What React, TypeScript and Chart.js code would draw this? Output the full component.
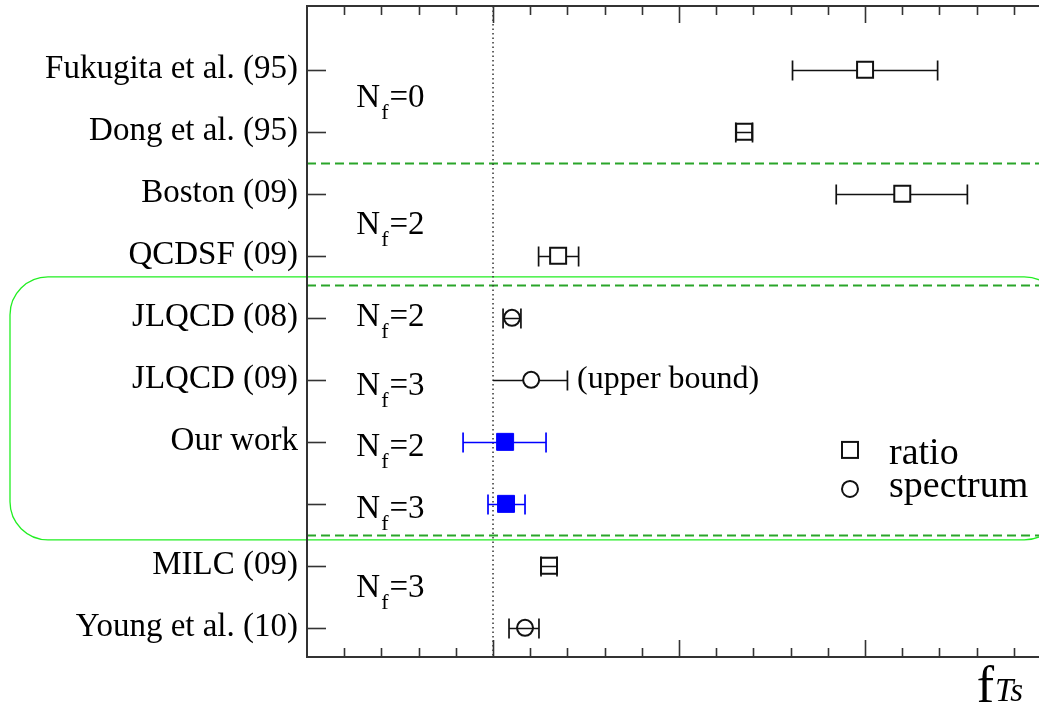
import React, { useEffect, useRef } from "react";
import { Chart, registerables } from "chart.js";

Chart.register(...registerables);

// ---- data ----
const categories = [
  "Fukugita et al. (95)",
  "Dong et al. (95)",
  "Boston (09)",
  "QCDSF (09)",
  "JLQCD (08)",
  "JLQCD (09)",
  "Our work",
  "",
  "MILC (09)",
  "Young et al. (10)",
];

const ratioRows = [0, 1, 2, 3, 8];
const ratioX = [3.0, 2.35, 3.2, 1.35, 1.301];
const ratioLo = [2.61, 2.305, 2.845, 1.245, 1.258];
const ratioHi = [3.39, 2.395, 3.55, 1.46, 1.344];

const spectrumRows = [4, 5, 9];
const spectrumX = [1.102, 1.205, 1.172];
const spectrumLo = [1.054, 1.0, 1.086];
const spectrumHi = [1.15, 1.4, 1.247];
const spectrumLoCap = [true, false, true];

const oursRows = [6, 7];
const oursX = [1.065, 1.07];
const oursLo = [0.839, 0.973];
const oursHi = [1.285, 1.172];

const nfValues = ["0", "2", "2", "3", "2", "3", "3"];
const nfRows = [0.6, 2.645, 4.13, 5.24, 6.23, 7.23, 8.5];
const separatorRows = [1.5, 3.47, 7.5];
const boxRows = [3.34, 7.58];
const referenceX = 1.0;
const upperBoundRow = 5;
const upperBoundX = 1.452;
const legendLabels = ["ratio", "spectrum"];
const legendRows = [6.13, 6.76];
const legendX = 2.919;

const X_MIN = 0;
const X_MAX = 3.935;
const Y_MIN = -1.03;
const Y_MAX = 9.47;

const SERIF = "'Liberation Serif', 'Times New Roman', 'DejaVu Serif', serif";

const decorPlugin = {
  id: "decor",
  beforeDatasetsDraw(chart: any) {
    const { ctx, chartArea: a } = chart;
    const x = chart.scales.x;
    const y = chart.scales.y;
    ctx.save();

    // green rounded box
    const bt = y.getPixelForValue(boxRows[0]);
    const bb = y.getPixelForValue(boxRows[1]);
    const bl = 10;
    const br = x.getPixelForValue(4.06);
    ctx.strokeStyle = "#22ee22";
    ctx.lineWidth = 1.3;
    ctx.beginPath();
    (ctx as any).roundRect(bl, bt, br - bl, bb - bt, 38);
    ctx.stroke();

    // dashed separators
    ctx.strokeStyle = "#2aa52a";
    ctx.lineWidth = 1.8;
    ctx.setLineDash([9, 5]);
    for (const r of separatorRows) {
      const py = Math.round(y.getPixelForValue(r)) + 0.5;
      ctx.beginPath();
      ctx.moveTo(a.left, py);
      ctx.lineTo(a.right, py);
      ctx.stroke();
    }

    // dotted reference line
    ctx.strokeStyle = "#333";
    ctx.lineWidth = 1.5;
    ctx.setLineDash([1.5, 3]);
    const rx = x.getPixelForValue(referenceX);
    ctx.beginPath();
    ctx.moveTo(rx, a.top);
    ctx.lineTo(rx, a.bottom);
    ctx.stroke();
    ctx.setLineDash([]);

    // frame
    ctx.strokeStyle = "#333";
    ctx.lineWidth = 2;
    ctx.beginPath();
    ctx.moveTo(a.right + 2, a.top);
    ctx.lineTo(a.left, a.top);
    ctx.lineTo(a.left, a.bottom);
    ctx.lineTo(a.right + 2, a.bottom);
    ctx.stroke();

    // x ticks (top and bottom, inward)
    ctx.lineWidth = 1.6;
    for (let k = 1; k * 0.2 <= X_MAX + 1e-9; k++) {
      const v = k * 0.2;
      const major = k % 5 === 0;
      const len = major ? 17 : 9;
      const px = Math.round(x.getPixelForValue(v)) + 0.5;
      ctx.beginPath();
      ctx.moveTo(px, a.bottom);
      ctx.lineTo(px, a.bottom - len);
      ctx.moveTo(px, a.top);
      ctx.lineTo(px, a.top + len);
      ctx.stroke();
    }
    // y ticks
    for (let i = 0; i < categories.length; i++) {
      const py = Math.round(y.getPixelForValue(i)) + 0.5;
      ctx.beginPath();
      ctx.moveTo(a.left, py);
      ctx.lineTo(a.left + 19, py);
      ctx.stroke();
    }

    // category labels
    ctx.fillStyle = "#000";
    ctx.font = `33px ${SERIF}`;
    ctx.textAlign = "right";
    ctx.textBaseline = "alphabetic";
    categories.forEach((c, i) => {
      if (c) ctx.fillText(c, a.left - 9, y.getPixelForValue(i) + 8);
    });

    // N_f labels
    ctx.textAlign = "left";
    const nx = x.getPixelForValue(0.265);
    nfValues.forEach((v, i) => {
      const by = y.getPixelForValue(nfRows[i]);
      ctx.font = `33px ${SERIF}`;
      ctx.fillText("N", nx, by);
      let cx = nx + ctx.measureText("N").width + 1;
      ctx.font = `22px ${SERIF}`;
      ctx.fillText("f", cx, by + 12);
      cx += ctx.measureText("f").width + 1;
      ctx.font = `33px ${SERIF}`;
      ctx.fillText("=" + v, cx, by);
    });

    // upper bound note
    ctx.font = `32px ${SERIF}`;
    ctx.fillText("(upper bound)", x.getPixelForValue(upperBoundX), y.getPixelForValue(upperBoundRow) + 8);

    // legend
    const lx = x.getPixelForValue(legendX);
    const ly0 = y.getPixelForValue(legendRows[0]);
    const ly1 = y.getPixelForValue(legendRows[1]);
    ctx.strokeStyle = "#111";
    ctx.lineWidth = 2;
    ctx.strokeRect(lx - 8, ly0 - 8, 16, 16);
    ctx.beginPath();
    ctx.arc(lx, ly1, 8, 0, Math.PI * 2);
    ctx.stroke();
    ctx.font = `38px ${SERIF}`;
    ctx.fillText(legendLabels[0], lx + 39, ly0 + 14);
    ctx.fillText(legendLabels[1], lx + 39, ly1 + 8);

    // axis title f_Ts
    const tx = x.getPixelForValue(3.6);
    ctx.font = `52px ${SERIF}`;
    ctx.fillText("f", tx, 702);
    const fw = ctx.measureText("f").width;
    ctx.font = `italic 33px ${SERIF}`;
    ctx.fillText("Ts", tx + fw + 1, 701);

    ctx.restore();
  },
  afterDatasetsDraw(chart: any) {
    const { ctx } = chart;
    const x = chart.scales.x;
    const y = chart.scales.y;
    ctx.save();
    const drawBar = (
      row: number,
      cv: number,
      lo: number,
      hi: number,
      half: number,
      color: string,
      loCap: boolean
    ) => {
      const py = Math.round(y.getPixelForValue(row)) + 0.5;
      const pc = x.getPixelForValue(cv);
      const pl = x.getPixelForValue(lo);
      const ph = x.getPixelForValue(hi);
      ctx.strokeStyle = color;
      ctx.lineWidth = 1.7;
      ctx.beginPath();
      if ((ph - pl) / 2 < 17) {
        ctx.moveTo(pl, py);
        ctx.lineTo(ph, py);
      } else {
        if (pc - half > pl) {
          ctx.moveTo(pl, py);
          ctx.lineTo(pc - half, py);
        }
        if (pc + half < ph) {
          ctx.moveTo(pc + half, py);
          ctx.lineTo(ph, py);
        }
      }
      if (loCap) {
        ctx.moveTo(pl, py - 10);
        ctx.lineTo(pl, py + 10);
      }
      ctx.moveTo(ph, py - 10);
      ctx.lineTo(ph, py + 10);
      ctx.stroke();
    };
    ratioRows.forEach((r, i) => drawBar(r, ratioX[i], ratioLo[i], ratioHi[i], 8, "#111", true));
    spectrumRows.forEach((r, i) =>
      drawBar(r, spectrumX[i], spectrumLo[i], spectrumHi[i], 8, "#111", spectrumLoCap[i])
    );
    oursRows.forEach((r, i) => drawBar(r, oursX[i], oursLo[i], oursHi[i], 8.5, "#0000ff", true));
    ctx.restore();
  },
};

export default function App() {
  const ref = useRef<HTMLCanvasElement>(null);
  useEffect(() => {
    const chart = new Chart(ref.current as HTMLCanvasElement, {
      type: "scatter",
      data: {
        datasets: [
          {
            label: "ratio",
            data: ratioRows.map((r, i) => ({ x: ratioX[i], y: r })),
            pointStyle: "rect",
            pointRadius: 11.3,
            pointHoverRadius: 11.3,
            pointBorderWidth: 2,
            pointBorderColor: "#111",
            pointBackgroundColor: "#fff",
            showLine: false,
          },
          {
            label: "spectrum",
            data: spectrumRows.map((r, i) => ({ x: spectrumX[i], y: r })),
            pointStyle: "circle",
            pointRadius: 8,
            pointHoverRadius: 8,
            pointBorderWidth: 2,
            pointBorderColor: "#111",
            pointBackgroundColor: "#fff",
            showLine: false,
          },
          {
            label: "our work",
            data: oursRows.map((r, i) => ({ x: oursX[i], y: r })),
            pointStyle: "rect",
            pointRadius: 12,
            pointHoverRadius: 12,
            pointBorderWidth: 1,
            pointBorderColor: "#0000ff",
            pointBackgroundColor: "#0000ff",
            showLine: false,
          },
        ],
      } as any,
      options: {
        responsive: false,
        animation: false,
        devicePixelRatio: 1,
        events: [],
        layout: { autoPadding: false, padding: { left: 307, top: 6, right: 0, bottom: 48 } },
        plugins: { legend: { display: false }, tooltip: { enabled: false } },
        scales: {
          x: { type: "linear", min: X_MIN, max: X_MAX, display: false },
          y: { type: "linear", min: Y_MIN, max: Y_MAX, reverse: true, display: false },
        },
      } as any,
      plugins: [decorPlugin],
    });
    return () => chart.destroy();
  }, []);
  return (
    <canvas
      ref={ref}
      width={1039}
      height={705}
      style={{ position: "absolute", left: 0, top: 0, width: 1039, height: 705, background: "#fff" }}
    />
  );
}
